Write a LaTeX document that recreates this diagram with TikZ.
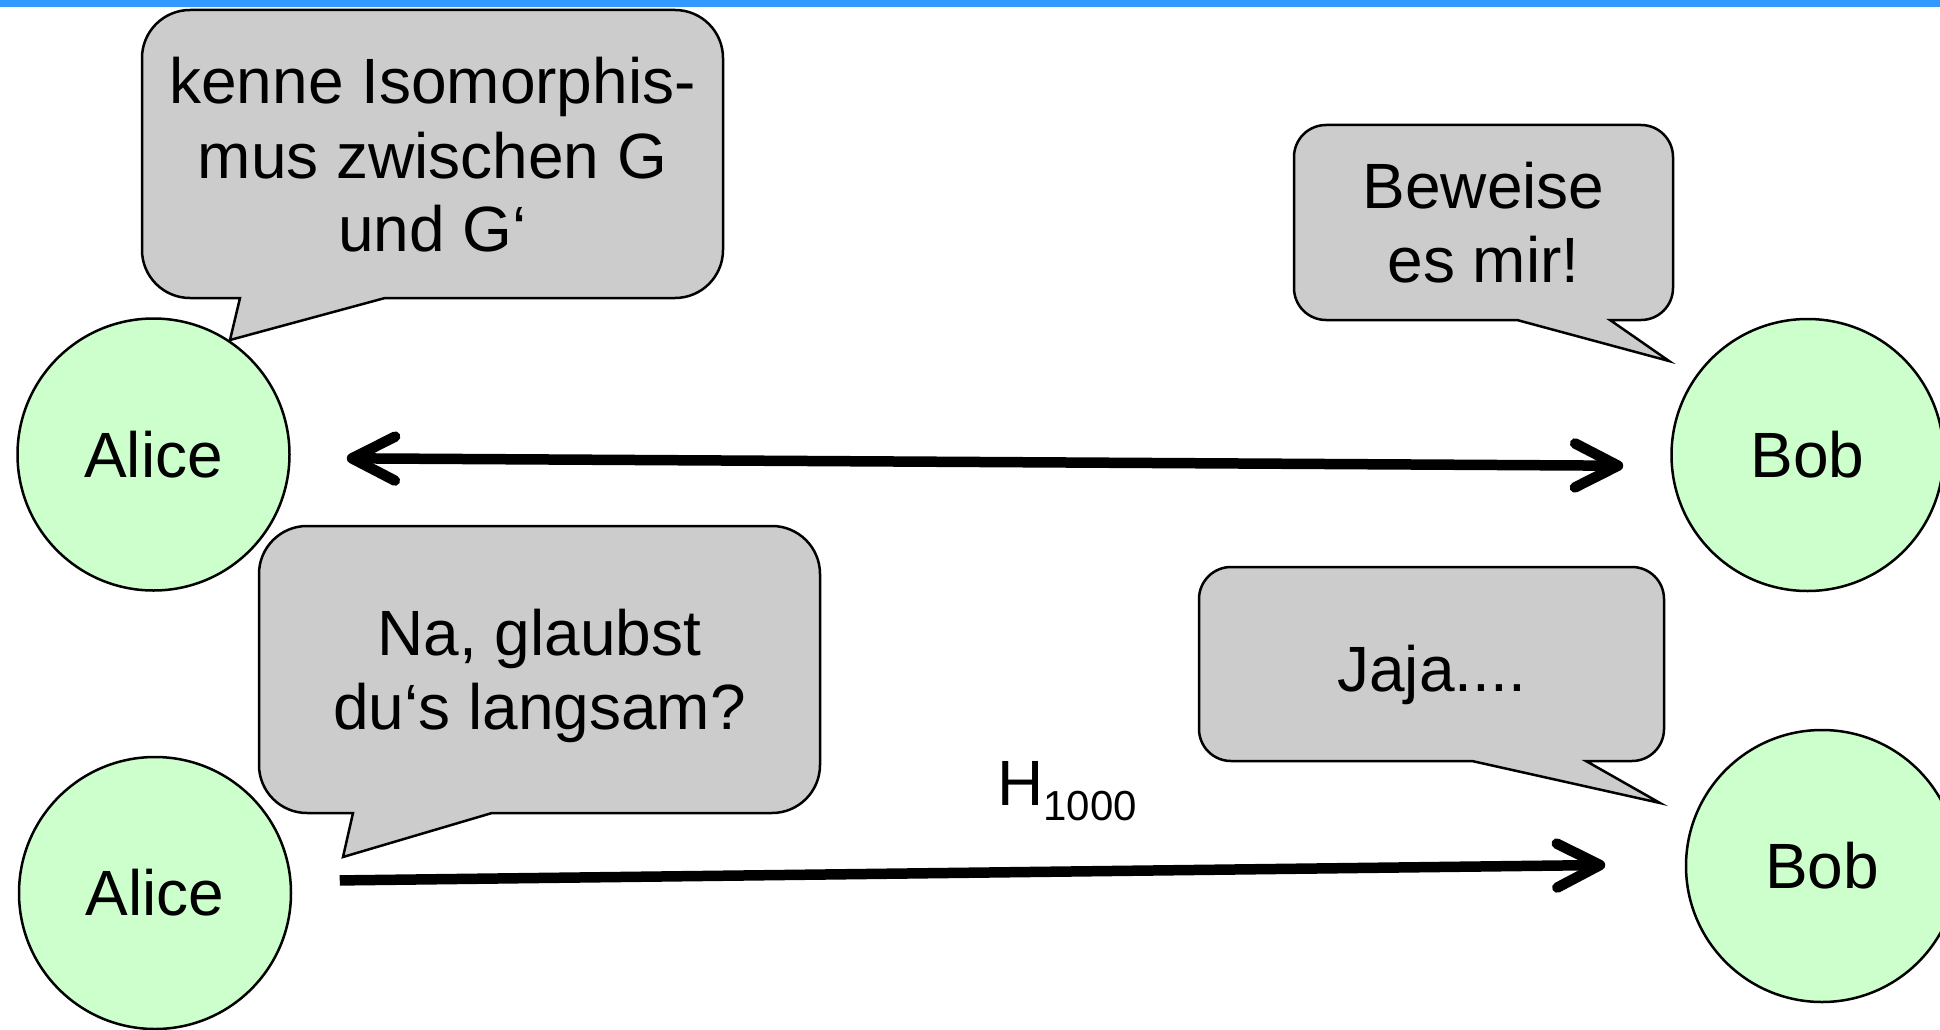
\documentclass[tikz,border=0pt]{standalone}
\usepackage{fontspec}
\setmainfont{Liberation Sans}
\usetikzlibrary{arrows.meta}

\definecolor{barblue}{HTML}{3399FF}
\definecolor{bubblegray}{HTML}{CCCCCC}
\definecolor{persongreen}{HTML}{CCFFCC}

\newcommand{\talkfont}{\fontsize{64}{74}\selectfont}
\newcommand{\subfont}{\fontsize{42}{42}\selectfont}

% speech bubble: left, top, right, bottom, corner radius,
% tail base left x, tail base right x, tail tip
\newcommand{\bubblepath}[8]{%
  \draw[bubble] ({#1+#5},#2) -- ({#3-#5},#2)
    arc[start angle=90,end angle=0,radius=#5pt] -- (#3,{#4+#5})
    arc[start angle=0,end angle=-90,radius=#5pt] -- (#7,#4) -- #8 -- (#6,#4) -- ({#1+#5},#4)
    arc[start angle=270,end angle=180,radius=#5pt] -- (#1,{#2-#5})
    arc[start angle=180,end angle=90,radius=#5pt] -- cycle;}

\begin{document}
\begin{tikzpicture}[x=1pt,y=1pt,
  person/.style={circle, draw=black, line width=2.5pt, fill=persongreen,
    minimum size=272pt, inner sep=0pt, font=\talkfont},
  bubble/.style={draw=black, line width=2.5pt, fill=bubblegray, line join=miter},
  talk/.style={inner sep=0pt, anchor=base, font=\talkfont},
  msg/.style={line width=10.5pt, draw=black},
  barb/.tip={Straight Barb[length=43pt,width=44pt,line cap=round,line join=round]}
]
\useasboundingbox (0,0) rectangle (1940,-1030);
\fill[white] (0,0) rectangle (1940,-1030);
\fill[barblue] (0,0) rectangle (1940,-7);

% participants
\node[person] (alice1) at (153.5,-454.5) {Alice};
\node[person] (bob1)   at (1807.5,-455) {Bob};
\node[person] (alice2) at (155,-893) {Alice};
\node[person] (bob2)   at (1822,-866) {Bob};

% speech bubbles
\bubblepath{142}{-10}{723}{-298}{48}{240}{385}{(230,-340)}
\bubblepath{1294}{-125}{1673}{-320}{32}{1517}{1610}{(1669,-361)}
\bubblepath{259}{-526}{820}{-813}{48}{353}{492}{(343,-857)}
\bubblepath{1199}{-567}{1664}{-761}{32}{1472}{1586}{(1660,-803)}

\node[talk] (say1) at (432.5,-104)
  {\begin{tabular}[t]{@{}c@{}}kenne Isomorphis-\\mus zwischen G\\und G‘\end{tabular}};
\node[talk] (say2) at (1483.5,-208)
  {\begin{tabular}[t]{@{}c@{}}Beweise\\es mir!\end{tabular}};
\node[talk] (say3) at (539.5,-655)
  {\begin{tabular}[t]{@{}c@{}}Na, glaubst\\du‘s langsam?\end{tabular}};
\node[talk] (say4) at (1431.5,-691) {Jaja....};

% messages
\draw[msg, barb-barb, shorten <=56pt, shorten >=47pt]
  ([yshift=-3.5pt]alice1.east) -- ([yshift=-11pt]bob1.west);
\draw[msg, -barb, shorten <=47.5pt, shorten >=79.5pt]
  ([yshift=12pt]alice2.east) -- ([yshift=2pt]bob2.west);

\node[talk, anchor=base west] (hlabel) at (997,-805)
  {H\raisebox{-15pt}{\subfont 1000}};
\end{tikzpicture}
\end{document}
